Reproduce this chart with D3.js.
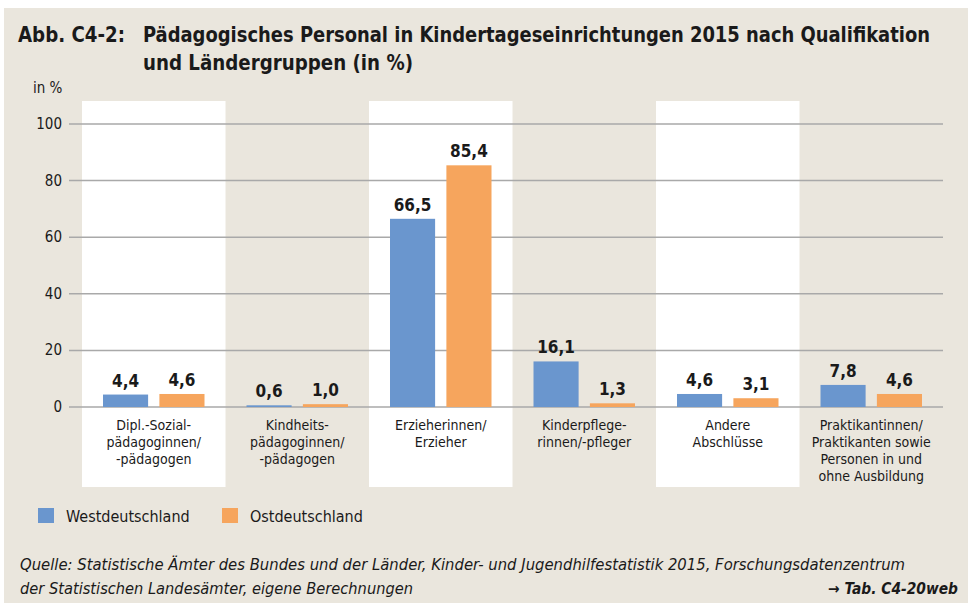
<!DOCTYPE html>
<html lang="de">
<head>
    <meta charset="UTF-8">
    <title>Abb. C4-2</title>
    <script src="https://d3js.org/d3.v7.min.js"></script>
    <style>
        body { margin: 0; background: #fff; }
        svg text { font-family: "Liberation Sans Narrow", "DejaVu Sans Condensed", "Open Sans", sans-serif; fill: #1a1a1a; }
        .grid line { stroke: #a9a9a9; stroke-width: 1.5; }
    </style>
</head>
<body>
    <svg width="968" height="603"></svg>

    <script>
        // data
        const categories = [
            "Dipl.-Sozial-\npädagoginnen/\n-pädagogen",
            "Kindheits-\npädagoginnen/\n-pädagogen",
            "Erzieherinnen/\nErzieher",
            "Kinderpflege-\nrinnen/-pfleger",
            "Andere\nAbschlüsse",
            "Praktikantinnen/\nPraktikanten sowie\nPersonen in und\nohne Ausbildung"
        ];
        const series = ["Westdeutschland", "Ostdeutschland"];
        const west = [4.4, 0.6, 66.5, 16.1, 4.6, 7.8];
        const east = [4.6, 1.0, 85.4, 1.3, 3.1, 4.6];
        const yTicks = [0, 20, 40, 60, 80, 100];
        const colors = ["#6a96ce", "#f6a55d"];

        const svg = d3.select("svg");

        // squeeze/stretch a text to the width it has in the print
        function fit(sel, w) {
            sel.attr("textLength", w).attr("lengthAdjust", "spacingAndGlyphs");
            return sel;
        }

        // beige panel
        svg.append("rect")
            .attr("x", 4).attr("y", 8)
            .attr("width", 964).attr("height", 595)
            .attr("fill", "#eae6dd");

        // title
        const title = svg.append("g").attr("font-weight", "bold").attr("font-size", 21);
        fit(title.append("text").attr("x", 18).attr("y", 42).text("Abb. C4-2:"), 107);
        fit(title.append("text").attr("x", 143).attr("y", 42)
            .text("Pädagogisches Personal in Kindertageseinrichtungen 2015 nach Qualifikation"), 787);
        fit(title.append("text").attr("x", 143).attr("y", 70).text("und Ländergruppen (in %)"), 270);

        svg.append("text").attr("x", 33).attr("y", 93).attr("font-size", 15).text("in %");

        // scales
        const x0 = d3.scaleBand().domain(d3.range(categories.length)).range([82, 943]);
        const x1 = d3.scaleBand().domain(series).range([21, x0.bandwidth() - 21]).paddingInner(0.2);
        const y = d3.scaleLinear().domain([0, 100]).range([407, 124]);

        // white bands behind every second category
        svg.append("g").selectAll("rect")
            .data(d3.range(categories.length).filter(i => i % 2 === 0))
            .join("rect")
            .attr("x", i => x0(i))
            .attr("y", 101)
            .attr("width", x0.bandwidth())
            .attr("height", 386)
            .attr("fill", "#fff");

        // gridlines + y labels
        const grid = svg.append("g").attr("class", "grid");
        grid.selectAll("line")
            .data(yTicks)
            .join("line")
            .attr("x1", 69).attr("x2", 943)
            .attr("y1", d => y(d)).attr("y2", d => y(d));
        svg.append("g").selectAll("text")
            .data(yTicks)
            .join("text")
            .attr("x", 62)
            .attr("y", d => y(d) + 5)
            .attr("text-anchor", "end")
            .attr("font-size", 15)
            .text(d => d);

        // bars
        const rows = categories.map((c, i) => [
            { s: series[0], v: west[i], i: i },
            { s: series[1], v: east[i], i: i }
        ]);
        const groups = svg.append("g").selectAll("g")
            .data(rows)
            .join("g")
            .attr("transform", (d, i) => `translate(${x0(i)},0)`);

        groups.selectAll("rect")
            .data(d => d)
            .join("rect")
            .attr("x", d => x1(d.s))
            .attr("y", d => y(d.v))
            .attr("width", x1.bandwidth())
            .attr("height", d => y(0) - y(d.v))
            .attr("fill", (d, j) => colors[j]);

        groups.selectAll("text")
            .data(d => d)
            .join("text")
            .attr("x", d => x1(d.s) + x1.bandwidth() / 2)
            .attr("y", d => y(d.v) - 8)
            .attr("text-anchor", "middle")
            .attr("font-size", 17)
            .attr("font-weight", "bold")
            .text(d => d3.format(".1f")(d.v).replace(".", ","));

        // category labels
        svg.append("g").selectAll("text")
            .data(categories)
            .join("text")
            .attr("x", (d, i) => x0(i) + x0.bandwidth() / 2)
            .attr("y", 430)
            .attr("text-anchor", "middle")
            .attr("font-size", 14)
            .each(function (d) {
                d3.select(this).selectAll("tspan")
                    .data(d.split("\n"))
                    .join("tspan")
                    .attr("x", d3.select(this).attr("x"))
                    .attr("dy", (t, k) => k === 0 ? 0 : 17)
                    .text(t => t);
            });

        // legend
        const legend = svg.append("g").selectAll("g")
            .data(series)
            .join("g")
            .attr("transform", (d, i) => `translate(${38 + i * 184},508)`);
        legend.append("rect").attr("width", 16).attr("height", 15).attr("fill", (d, i) => colors[i]);
        legend.append("text").attr("x", 28).attr("y", 14).attr("font-size", 16).text(d => d);

        // source
        const src = svg.append("g").attr("font-size", 15.5).attr("font-style", "italic");
        fit(src.append("text").attr("x", 20).attr("y", 570)
            .text("Quelle: Statistische Ämter des Bundes und der Länder, Kinder- und Jugendhilfestatistik 2015, Forschungsdatenzentrum"), 885);
        fit(src.append("text").attr("x", 20).attr("y", 594)
            .text("der Statistischen Landesämter, eigene Berechnungen"), 393);
        fit(src.append("text").attr("x", 828).attr("y", 594)
            .attr("font-weight", "bold")
            .text("→ Tab. C4-20web"), 130);
    </script>
</body>
</html>
